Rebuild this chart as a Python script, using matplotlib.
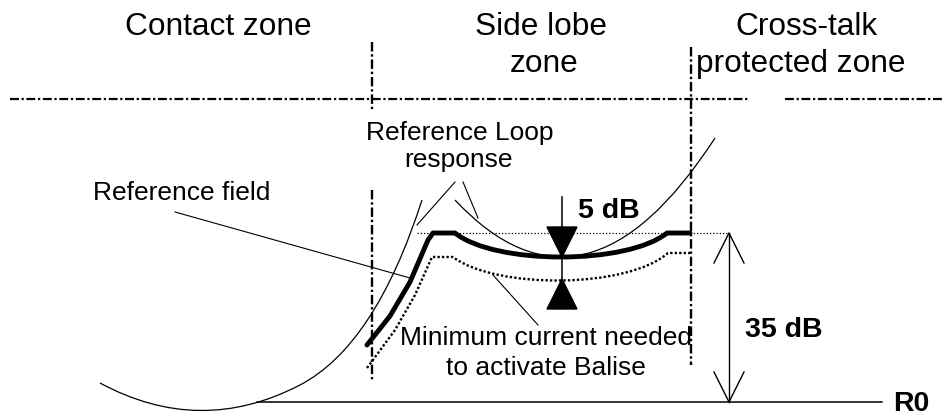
from __future__ import annotations

import matplotlib

matplotlib.use("Agg")
import matplotlib.pyplot as plt
from matplotlib.patches import PathPatch, Polygon
from matplotlib.path import Path

# Canvas is laid out in pixel units (x right, y down), 944 x 416
W, H = 944, 416

# Zone headers: (text, x centre, baseline)
zone_labels = [
    ("Contact zone", 218, 35),
    ("Side lobe", 541, 35),
    ("zone", 544, 72),
    ("Cross-talk", 806, 35),
    ("protected zone", 801, 72),
]

# Zone separators
boundary_y = 99
boundary_x_pieces = [(10, 749), (785, 944)]
left_sep_x = 372
left_sep_pieces = [(42, 110), (190, 382)]
right_sep_x = 691
right_sep_span = (47, 365)

# Reference field (big left lobe): start, ctrl, mid, ctrl, end (quadratic pieces)
ref_field_pts = [(100, 383), (200, 437), (300, 385), (375, 346), (422, 200)]
# Reference loop response (parabola through the side lobe zone)
loop_pts = [(455, 200), (585, 339), (715, 138)]

# Field curve (thick) and minimum activation current (dotted)
field_line = [(367, 345), (390, 316), (410, 282), (428, 240), (433, 233), (455, 233)]
field_bowl = [(495, 265), (627, 265), (667, 233)]
field_end = (690, 233)
min_line = [(367, 368), (395, 330), (415, 295), (432, 257), (453, 257)]
min_bowl = [(495, 289), (627, 289), (668, 253)]
min_end = (690, 253)

# Reference levels
top_level_y = 233
top_level_span = (417, 728)
r0_y = 402
r0_span = (257, 882)

# 5 dB and 35 dB markers
gap_x = 562
gap_span = (197, 279)
arrow_35_x = 729

# Pointer lines from labels to curves
pointers = [
    ((175, 212), (410, 278)),  # Reference field
    ((455, 182), (417, 225)),  # Reference Loop response (left)
    ((463, 182), (478, 218)),  # Reference Loop response (right)
    ((538, 325), (493, 275)),  # Minimum current
]

small_labels = [
    ("Reference field", 93, 200, "left"),
    ("Reference Loop", 460, 140, "center"),
    ("response", 459, 167, "center"),
    ("Minimum current needed", 546, 345, "center"),
    ("to activate Balise", 546, 375, "center"),
]
bold_labels = [
    ("5 dB", 578, 218, "baseline"),
    ("35 dB", 745, 337, "baseline"),
    ("R0", 893, 404, "center"),
]

DASHDOT = (0, (4, 1.2, 1, 1.2))
FONT = ["Liberation Sans", "DejaVu Sans"]


def main() -> None:
    fig = plt.figure(figsize=(W / 100, H / 100), dpi=100)
    ax = fig.add_axes([0, 0, 1, 1])
    ax.set_xlim(0, W)
    ax.set_ylim(H, 0)
    ax.axis("off")

    # zone boundaries
    for x0, x1 in boundary_x_pieces:
        ax.plot([x0, x1], [boundary_y, boundary_y], color="black", lw=1.6,
                linestyle=DASHDOT, dash_capstyle="butt")
    for y0, y1 in left_sep_pieces:
        ax.plot([left_sep_x, left_sep_x], [y0, y1], color="black", lw=1.7,
                linestyle=DASHDOT, dash_capstyle="butt")
    ax.plot([right_sep_x, right_sep_x], list(right_sep_span), color="black", lw=1.7,
            linestyle=DASHDOT, dash_capstyle="butt")

    # thin reference curves
    ref_path = Path(ref_field_pts, [Path.MOVETO] + [Path.CURVE3] * 4)
    ax.add_patch(PathPatch(ref_path, fill=False, lw=0.9, color="black"))
    loop_path = Path(loop_pts, [Path.MOVETO, Path.CURVE3, Path.CURVE3])
    ax.add_patch(PathPatch(loop_path, fill=False, lw=0.9, color="black"))

    # thick field curve
    verts = field_line + field_bowl + [field_end]
    codes = [Path.MOVETO] + [Path.LINETO] * (len(field_line) - 1) + [Path.CURVE4] * 3 + [Path.LINETO]
    ax.add_patch(PathPatch(Path(verts, codes), fill=False, lw=3.5, color="black",
                           joinstyle="round", capstyle="round"))

    # dotted minimum-current curve
    verts = min_line + min_bowl + [min_end]
    codes = [Path.MOVETO] + [Path.LINETO] * (len(min_line) - 1) + [Path.CURVE4] * 3 + [Path.LINETO]
    ax.add_patch(PathPatch(Path(verts, codes), fill=False, lw=1.7, color="black",
                           linestyle=(0, (1, 0.9)), capstyle="butt"))

    # reference levels
    ax.plot(list(top_level_span), [top_level_y, top_level_y], color="black", lw=0.9,
            linestyle=(0, (1, 1.6)))
    ax.plot(list(r0_span), [r0_y, r0_y], color="black", lw=1.1)

    # 5 dB gap marker
    ax.plot([gap_x, gap_x], list(gap_span), color="black", lw=1.1)
    ax.add_patch(Polygon([(gap_x - 15, 227), (gap_x + 15, 227), (gap_x, 257)],
                         closed=True, color="black"))
    ax.add_patch(Polygon([(gap_x - 15, 309), (gap_x + 15, 309), (gap_x, 279)],
                         closed=True, color="black"))

    # 35 dB double arrow with open heads
    ax.plot([arrow_35_x, arrow_35_x], [top_level_y, r0_y], color="black", lw=1.0)
    ax.plot([arrow_35_x - 15, arrow_35_x, arrow_35_x + 15],
            [top_level_y + 30, top_level_y, top_level_y + 30], color="black", lw=1.0)
    ax.plot([arrow_35_x - 15, arrow_35_x, arrow_35_x + 15],
            [r0_y - 30, r0_y, r0_y - 30], color="black", lw=1.0)

    # pointer lines
    for (x0, y0), (x1, y1) in pointers:
        ax.plot([x0, x1], [y0, y1], color="black", lw=0.8)

    # text
    for text, x, y in zone_labels:
        ax.text(x, y, text, ha="center", va="baseline", fontsize=22.8, family=FONT)
    for text, x, y, ha in small_labels:
        ax.text(x, y, text, ha=ha, va="baseline", fontsize=19, family=FONT)
    for text, x, y, va in bold_labels:
        ax.text(x, y, text, ha="left", va=va, fontsize=20.5,
                fontweight="bold", family=FONT)

    fig.savefig("out.png", dpi=100)
    plt.close(fig)


if __name__ == "__main__":
    main()
